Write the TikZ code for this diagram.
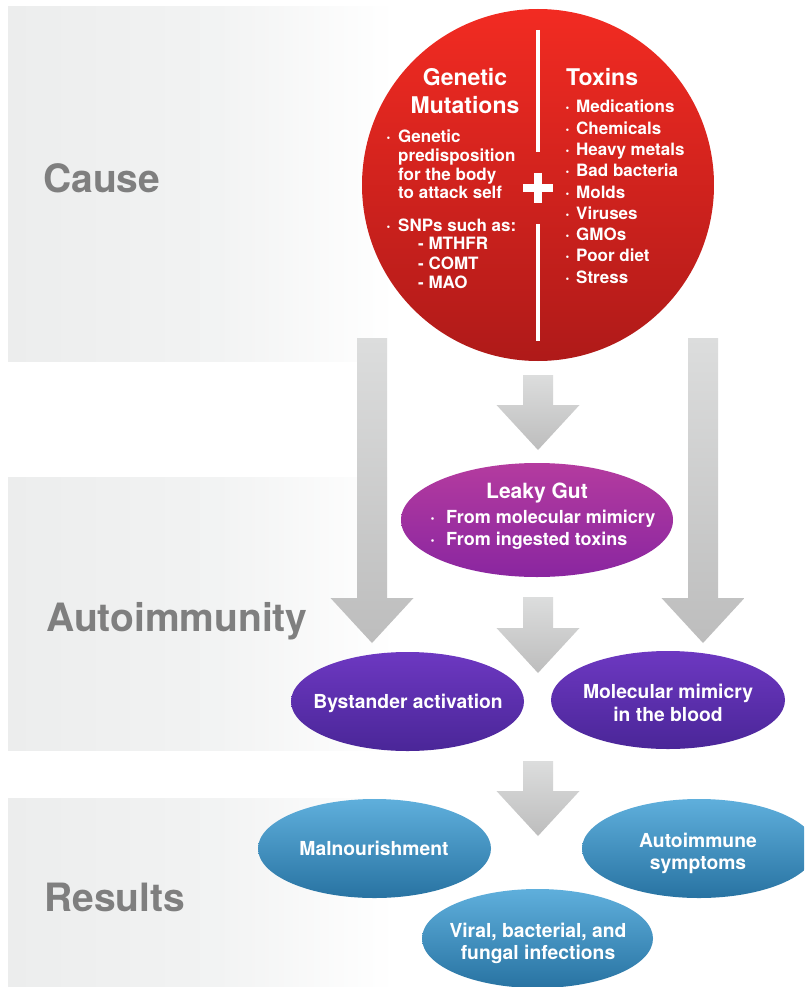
\documentclass[tikz,border=0pt]{standalone}
\usepackage{fontspec}
\setmainfont{TeX Gyre Heros}
\usetikzlibrary{shapes.geometric,calc}

\definecolor{bandA}{HTML}{ECEDED}
\definecolor{bandB}{HTML}{F2F3F3}
\definecolor{labelgray}{HTML}{7F7F7F}
\definecolor{redtop}{HTML}{F22B22}
\definecolor{redbot}{HTML}{AF1A19}
\definecolor{lgtop}{HTML}{B43B9F}
\definecolor{lgbot}{HTML}{8A26A0}
\definecolor{putop}{HTML}{6D38C1}
\definecolor{pubot}{HTML}{4A2698}
\definecolor{bltop}{HTML}{5FAFDC}
\definecolor{blbot}{HTML}{2873A2}
\definecolor{artop}{HTML}{DCDDDD}
\definecolor{arbot}{HTML}{BDBDBD}

\pgfdeclarehorizontalshading{bandshade}{100bp}{color(0bp)=(bandA); color(25bp)=(bandA); color(52bp)=(bandB); color(75bp)=(white); color(100bp)=(white)}

\newcommand\blockarrow[2]{%
  \shade[top color=artop,bottom color=arbot]
    ($(#1)+(-15,0)$) -- ($(#2)+(-15,-45)$) -- ($(#2)+(-41.5,-45)$) -- (#2)
    -- ($(#2)+(41.5,-45)$) -- ($(#2)+(15,-45)$) -- ($(#1)+(15,0)$) -- cycle;}

\tikzset{
  lbl/.style={text=labelgray, font=\fontsize{39}{41}\selectfont\bfseries, anchor=base west, inner sep=0pt},
  ctitle/.style={text=white, font=\fontsize{23}{26}\selectfont\bfseries, anchor=base, inner sep=0pt},
  citem/.style={text=white, font=\fontsize{17}{19}\selectfont\bfseries, anchor=base west, inner sep=0pt},
  gtitle/.style={text=white, font=\fontsize{21}{24}\selectfont\bfseries, anchor=base, inner sep=0pt},
  gitem/.style={text=white, font=\fontsize{18}{21}\selectfont\bfseries, anchor=base west, inner sep=0pt},
  etext/.style={text=white, font=\fontsize{19.3}{23}\selectfont\bfseries, anchor=base, inner sep=0pt},
  oval/.style={ellipse, inner sep=0pt, outer sep=0pt, draw=none},
  leakyoval/.style={oval, top color=lgtop, bottom color=lgbot},
  purpleoval/.style={oval, top color=putop, bottom color=pubot},
  blueoval/.style={oval, top color=bltop, bottom color=blbot},
  band/.style={shading=bandshade, draw=none},
  divider/.style={draw=white, line width=4pt},
  plusbar/.style={draw=white, line width=8pt},
}

\begin{document}
\begin{tikzpicture}[x=1pt,y=-1pt]
\useasboundingbox (0,0) rectangle (804,987);
\fill[white] (0,0) rectangle (804,987);
\clip (0,0) rectangle (804,987);

% bands
\shade[band] (8,7) rectangle (395,361);
\shade[band] (8,477) rectangle (395,750);
\shade[band] (8,798) rectangle (395,987);

% section labels
\node[lbl] (lcause) at (43,193) {Cause};
\node[lbl] (lauto) at (46,631) {Autoimmunity};
\node[lbl] (lres) at (44,911) {Results};

% arrow anchors
\coordinate (a1s) at (538,375); \coordinate (a1e) at (538,450);
\coordinate (a2s) at (372,338); \coordinate (a2e) at (372,643);
\coordinate (a3s) at (703,338); \coordinate (a3e) at (703,643);
\coordinate (a4s) at (538,597); \coordinate (a4e) at (538,673);
\coordinate (a5s) at (538,761); \coordinate (a5e) at (538,836);

\blockarrow{a2s}{a2e}
\blockarrow{a3s}{a3e}
\blockarrow{a1s}{a1e}
\blockarrow{a4s}{a4e}
\blockarrow{a5s}{a5e}

% red circle
\node[circle, minimum size=352pt, inner sep=0pt, top color=redtop, bottom color=redbot] (causes) at (538,185) {};
\draw[divider] (538,30) -- (538,152);
\draw[divider] (538,224) -- (538,341);
\draw[plusbar] (523,188) -- (553,188) (538,173) -- (538,203);

\node[ctitle] (gt1) at (465,86) {Genetic};
\node[ctitle] (gt2) at (465,114) {Mutations};
\node[citem] (gb1) at (386,143) {·};
\node[citem] (g1) at (398,143) {Genetic};
\node[citem] (g2) at (398,161.7) {predisposition};
\node[citem] (g3) at (398,180.4) {for the body};
\node[citem] (g4) at (398,199) {to attack self};
\node[citem] (gb2) at (386,231) {·};
\node[citem] (g5) at (398,231) {SNPs such as:};
\node[citem] (g6) at (418,249.5) {- MTHFR};
\node[citem] (g7) at (418,269) {- COMT};
\node[citem] (g8) at (418,288) {- MAO};

\node[ctitle, anchor=base west] (tt) at (566,86) {Toxins};
\foreach \t [count=\i] in {Medications,Chemicals,Heavy metals,Bad bacteria,Molds,Viruses,GMOs,Poor diet,Stress}{
  \node[citem] (tb\i) at (565,{113+21.25*(\i-1)}) {·};
  \node[citem] (t\i) at (576,{113+21.25*(\i-1)}) {\t};
}

% leaky gut
\node[leakyoval, minimum width=272pt, minimum height=114pt] (leaky) at (537,520) {};
\node[gtitle] (lgt) at (537,498) {Leaky Gut};
\node[gitem] (lgb1) at (430,523) {·};
\node[gitem] (lg1) at (446,523) {From molecular mimicry};
\node[gitem] (lgb2) at (430,545) {·};
\node[gitem] (lg2) at (446,545) {From ingested toxins};

% autoimmunity ovals
\node[purpleoval, minimum width=233pt, minimum height=99pt] (bystander) at (407.5,701.5) {};
\node[etext] (byt) at (408,708) {Bystander activation};
\node[purpleoval, minimum width=234pt, minimum height=98pt] (mimicry) at (668,700) {};
\node[etext] (mmt1) at (668,698) {Molecular mimicry};
\node[etext] (mmt2) at (668,721) {in the blood};

% results ovals
\node[blueoval, minimum width=233pt, minimum height=99pt] (malnour) at (374.5,848.5) {};
\node[etext] (mat) at (374,855) {Malnourishment};
\node[blueoval, minimum width=234pt, minimum height=99pt] (autosym) at (699,848.5) {};
\node[etext] (ast1) at (698,847) {Autoimmune};
\node[etext] (ast2) at (698,869) {symptoms};
\node[blueoval, minimum width=231pt, minimum height=99pt] (viral) at (537.5,938.5) {};
\node[etext] (vt1) at (538,937) {Viral, bacterial, and};
\node[etext] (vt2) at (538,959) {fungal infections};
\end{tikzpicture}
\end{document}
